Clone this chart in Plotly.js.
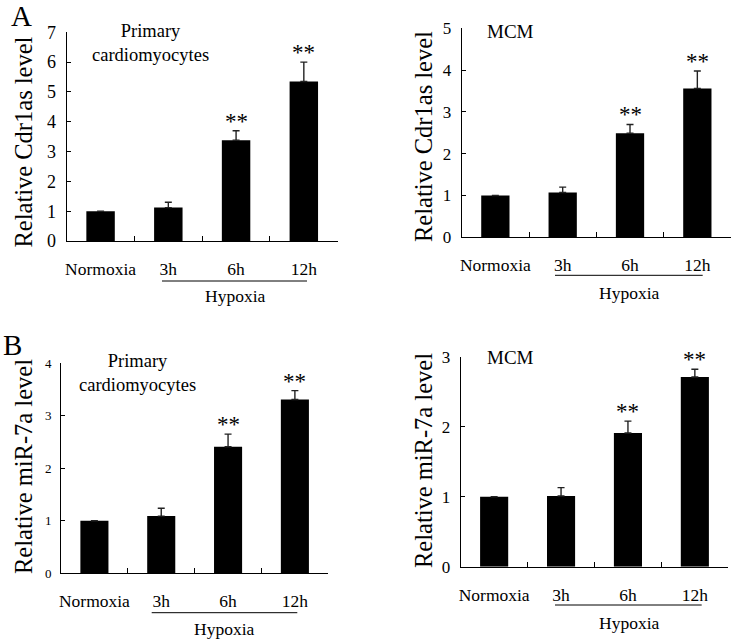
<!DOCTYPE html>
<html>
<head>
<meta charset="utf-8">
<script src="https://cdn.plot.ly/plotly-3.0.1.min.js"></script>
<style>html,body{margin:0;padding:0;background:#fff;}#chart{width:733px;height:640px;}</style>
</head>
<body>
<div id="chart"></div>
<script>
// ---- data ----
const categories = ["Normoxia", "3h", "6h", "12h"];
const cdr1asPrimary = [1.0, 1.12, 3.38, 5.35];
const cdr1asPrimaryErr = [0, 0.18, 0.32, 0.65];
const cdr1asMCM = [1.0, 1.07, 2.49, 3.56];
const cdr1asMCMErr = [0, 0.13, 0.21, 0.42];
const mir7aPrimary = [1.0, 1.09, 2.41, 3.31];
const mir7aPrimaryErr = [0, 0.15, 0.24, 0.17];
const mir7aMCM = [1.0, 1.01, 1.91, 2.71];
const mir7aMCMErr = [0, 0.12, 0.17, 0.11];
const significant = ["6h", "12h"];
const starLabel = "**";
const yTitles = ["Relative Cdr1as level", "Relative Cdr1as level", "Relative miR-7a level", "Relative miR-7a level"];
const cellLabels = ["Primary<br>cardiomyocytes", "MCM", "Primary<br>cardiomyocytes", "MCM"];
const panelLetters = ["A", "B"];
const groupLabel = "Hypoxia";
const yMax = [7, 5, 4, 3];

const W = 733, H = 640;
const px = x => x / W;
const py = y => 1 - y / H;
const FONT = "'Liberation Serif', 'Times New Roman', serif";

const panels = [
  {vals: cdr1asPrimary, err: cdr1asPrimaryErr, x0: 66.7, x1: 337.7, y0: 241, y1: 32.3, tickSize: 18,
   title: {x: 23, y: 142.5}, cell: {x: 150, y: 43}, line: {x0: 162, x1: 307, y: 281}, hyp: {x: 235, y: 296}},
  {vals: cdr1asMCM, err: cdr1asMCMErr, x0: 461.7, x1: 731, y0: 237.3, y1: 28.3, tickSize: 17,
   title: {x: 423.5, y: 136.5}, cell: {x: 510, y: 31}, line: {x0: 555, x1: 702.7, y: 275.3}, hyp: {x: 629, y: 293.3}},
  {vals: mir7aPrimary, err: mir7aPrimaryErr, x0: 61, x1: 328.3, y0: 573.3, y1: 363.3, tickSize: 13,
   title: {x: 23, y: 467}, cell: {x: 137, y: 372.5}, line: {x0: 151.7, x1: 297.3, y: 612.7}, hyp: {x: 225, y: 629}},
  {vals: mir7aMCM, err: mir7aMCMErr, x0: 460.7, x1: 728.3, y0: 566.7, y1: 356.7, tickSize: 17,
   title: {x: 423.5, y: 460.5}, cell: {x: 510, y: 357}, line: {x0: 555, x1: 701.7, y: 605}, hyp: {x: 629, y: 623.3}}
];

const data = [];
const layout = {
  width: W, height: H,
  margin: {l: 0, r: 0, t: 0, b: 0},
  paper_bgcolor: "#fff", plot_bgcolor: "#fff",
  showlegend: false,
  font: {family: FONT, color: "#000"},
  annotations: [], shapes: []
};

panels.forEach((p, i) => {
  const n = i + 1;
  const xa = n === 1 ? "x" : "x" + n;
  const ya = n === 1 ? "y" : "y" + n;
  data.push({
    type: "bar", x: categories, y: p.vals, xaxis: xa, yaxis: ya,
    width: 0.42,
    marker: {color: "#000", line: {width: 0}},
    error_y: {type: "data", symmetric: false, array: p.err, arrayminus: p.err.map(() => 0),
              color: "#222", thickness: 1.4, width: 3.5},
    hoverinfo: "skip"
  });
  layout["xaxis" + (n === 1 ? "" : n)] = {
    anchor: ya, domain: [px(p.x0), px(p.x1)],
    type: "category", range: [-0.5, 3.5],
    showline: true, linecolor: "#000", linewidth: 1,
    ticks: "inside", tickson: "boundaries", ticklen: 5, tickcolor: "#000", tickwidth: 1,
    showgrid: false, zeroline: false, tickangle: 0,
    tickfont: {family: FONT, size: 17.5, color: "#000"},
    ticklabelstandoff: 12, fixedrange: true
  };
  layout["yaxis" + (n === 1 ? "" : n)] = {
    anchor: xa, domain: [py(p.y0), py(p.y1)],
    range: [0, yMax[i]], dtick: 1, tick0: 0,
    showline: true, linecolor: "#000", linewidth: 1,
    ticks: "inside", ticklen: 4, tickcolor: "#000", tickwidth: 1,
    showgrid: false, zeroline: false,
    tickfont: {family: FONT, size: p.tickSize, color: "#000"},
    ticklabelstandoff: 6, fixedrange: true
  };
  categories.forEach((c, k) => {
    if (significant.includes(c)) {
      layout.annotations.push({
        xref: xa, yref: ya, x: c, y: p.vals[k] + p.err[k],
        text: starLabel, showarrow: false, xanchor: "center", yanchor: "bottom",
        yshift: -5, font: {family: FONT, size: 23, color: "#000"}
      });
    }
  });
  layout.annotations.push({
    xref: "paper", yref: "paper", x: px(p.title.x), y: py(p.title.y),
    text: yTitles[i], textangle: -90, showarrow: false, xanchor: "center", yanchor: "middle",
    font: {family: FONT, size: 24.5, color: "#000"}
  });
  layout.annotations.push({
    xref: "paper", yref: "paper", x: px(p.cell.x), y: py(p.cell.y),
    text: cellLabels[i], showarrow: false, xanchor: "center", yanchor: "middle",
    font: {family: FONT, size: i % 2 === 0 ? 18.5 : 19, color: "#000"}
  });
  layout.shapes.push({
    type: "line", xref: "paper", yref: "paper",
    x0: px(p.line.x0), x1: px(p.line.x1), y0: py(p.line.y), y1: py(p.line.y),
    line: {color: "#000", width: 1}
  });
  layout.annotations.push({
    xref: "paper", yref: "paper", x: px(p.hyp.x), y: py(p.hyp.y),
    text: groupLabel, showarrow: false, xanchor: "center", yanchor: "middle",
    font: {family: FONT, size: 17.5, color: "#000"}
  });
});

layout.annotations.push({xref: "paper", yref: "paper", x: px(21), y: py(16), text: panelLetters[0],
  showarrow: false, xanchor: "center", yanchor: "middle", font: {family: FONT, size: 29, color: "#000"}});
layout.annotations.push({xref: "paper", yref: "paper", x: px(12.5), y: py(345), text: panelLetters[1],
  showarrow: false, xanchor: "center", yanchor: "middle", font: {family: FONT, size: 29, color: "#000"}});

Plotly.newPlot("chart", data, layout, {staticPlot: true, displayModeBar: false});
</script>
</body>
</html>
